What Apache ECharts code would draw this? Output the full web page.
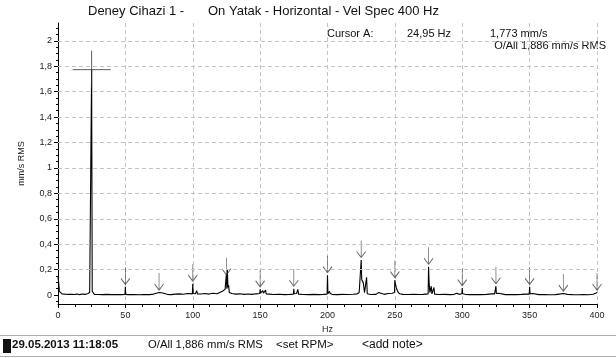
<!DOCTYPE html>
<html>
<head>
<meta charset="utf-8">
<script src="https://cdn.jsdelivr.net/npm/echarts@6/dist/echarts.min.js"></script>
<style>
  html, body { margin: 0; padding: 0; background: #fff; }
  #chart { width: 616px; height: 358px; }
</style>
</head>
<body>
<div id="chart"></div>
<script>
// Velocity spectrum, 0-400 Hz: [frequency Hz, amplitude mm/s RMS]
const spectrum = [
  [0, 0.14], [0.5, 0.10], [1.0, 0.03], [1.5, 0.015], [3, 0.01], [5, 0.008], [8, 0.006],
  [10, 0.007], [12, 0.005], [14, 0.008], [16, 0.004], [18, 0.009], [20, 0.006], [22, 0.01],
  [23.5, 0.02], [24.5, 0.03], [24.95, 1.773], [25.4, 0.03], [26, 0.015], [27, 0.006],
  [30, 0.005], [33, 0.004], [36, 0.006], [40, 0.004], [44, 0.005], [47, 0.004],
  [49.7, 0.006], [50, 0.065], [50.3, 0.006], [52, 0.004], [56, 0.005], [60, 0.003],
  [64, 0.005], [68, 0.004], [71, 0.008], [73, 0.015], [74, 0.007], [75, 0.02], [75.5, 0.006],
  [77, 0.018], [78, 0.005], [81, 0.006], [84, 0.004], [87, 0.008], [90, 0.01], [93, 0.007],
  [96, 0.012], [99.7, 0.01], [100, 0.09], [100.3, 0.012], [102, 0.01], [103, 0.035],
  [103.5, 0.01], [106, 0.009], [109, 0.012], [112, 0.008], [115, 0.014], [118, 0.01],
  [120, 0.02], [121, 0.012], [122, 0.03], [123, 0.015], [124, 0.045], [124.7, 0.03],
  [125, 0.17], [125.3, 0.05], [125.7, 0.2], [126.1, 0.06], [126.6, 0.08], [127.1, 0.02],
  [129, 0.012], [132, 0.008], [135, 0.01], [138, 0.006], [141, 0.009], [144, 0.006],
  [147, 0.01], [149.7, 0.012], [150, 0.045], [150.3, 0.015], [151.5, 0.02], [152, 0.035],
  [152.5, 0.015], [154, 0.04], [154.5, 0.01], [157, 0.008], [160, 0.005], [164, 0.007],
  [168, 0.004], [172, 0.006], [174.7, 0.008], [175, 0.05], [175.3, 0.01], [177, 0.012],
  [178, 0.045], [178.5, 0.008], [182, 0.005], [186, 0.004], [190, 0.006], [194, 0.004],
  [197, 0.006], [199.7, 0.008], [200, 0.157], [200.3, 0.012], [201.5, 0.03], [202, 0.012],
  [203, 0.025], [203.5, 0.006], [207, 0.004], [211, 0.006], [215, 0.005], [219, 0.007],
  [222, 0.01], [223.5, 0.02], [224.7, 0.03], [225, 0.276], [225.4, 0.12], [226, 0.11],
  [226.5, 0.1], [227, 0.09], [227.5, 0.02], [228.5, 0.02], [229, 0.14], [229.5, 0.01],
  [232, 0.005], [236, 0.006], [238, 0.02], [238.5, 0.005], [242, 0.006], [245, 0.012],
  [248, 0.015], [249.7, 0.02], [250, 0.118], [250.4, 0.09], [251, 0.06], [252, 0.03],
  [253, 0.035], [253.5, 0.01], [256, 0.006], [260, 0.005], [264, 0.007], [268, 0.005],
  [271, 0.006], [274.7, 0.01], [275, 0.223], [275.4, 0.1], [276, 0.02], [277, 0.07],
  [277.5, 0.01], [279, 0.06], [279.5, 0.008], [283, 0.005], [287, 0.006], [291, 0.004],
  [294, 0.006], [296, 0.015], [297, 0.02], [297.5, 0.006], [299.7, 0.01], [300, 0.055],
  [300.3, 0.01], [301, 0.02], [302, 0.006], [306, 0.004], [310, 0.005], [314, 0.004],
  [318, 0.006], [322, 0.01], [323, 0.02], [324, 0.01], [324.7, 0.012], [325, 0.07],
  [325.3, 0.012], [327, 0.015], [328, 0.005], [332, 0.004], [336, 0.005], [340, 0.004],
  [344, 0.006], [347, 0.008], [349.7, 0.008], [350, 0.065], [350.3, 0.008], [352, 0.012],
  [353, 0.005], [357, 0.004], [361, 0.005], [365, 0.003], [369, 0.004], [372, 0.008],
  [375, 0.012], [378, 0.006], [382, 0.004], [386, 0.003], [390, 0.005], [394, 0.003],
  [397, 0.007], [399, 0.015], [400, 0.02]
];

// Harmonic markers of 25 Hz: [frequency Hz, amplitude mm/s]
const harmonics = [
  [50, 0.065], [75, 0.02], [100, 0.09], [125, 0.14], [150, 0.045], [175, 0.05],
  [200, 0.157], [225, 0.276], [250, 0.118], [275, 0.223], [300, 0.055], [325, 0.07],
  [350, 0.065], [375, 0.012], [400, 0.02]
];

// Cursor A position
const cursorA = [24.95, 1.773];

// Axis ticks
const yMajorTicks = [0, 0.2, 0.4, 0.6, 0.8, 1, 1.2, 1.4, 1.6, 1.8, 2];
const yGridLines = [0.2, 0.4, 0.6, 0.8, 1, 1.2, 1.4, 1.6, 1.8, 2];
const yMinorTicks = [-0.05, 0.05, 0.1, 0.15, 0.25, 0.3, 0.35, 0.45, 0.5, 0.55, 0.65, 0.7, 0.75,
  0.85, 0.9, 0.95, 1.05, 1.1, 1.15, 1.25, 1.3, 1.35, 1.45, 1.5, 1.55, 1.65, 1.7, 1.75,
  1.85, 1.9, 1.95, 2.05, 2.1];

const titleLeft = 'Deney Cihazi 1 -';
const titleRight = 'On Yatak - Horizontal - Vel Spec 400 Hz';
const cursorLabel = 'Cursor A:';
const cursorFreq = '24,95 Hz';
const cursorAmp = '1,773 mm/s';
const overallText = 'O/All 1,886 mm/s RMS';
const footerDate = '29.05.2013 11:18:05';
const footerOverall = 'O/All 1,886 mm/s RMS';
const footerRpm = '<set RPM>';
const footerNote = '<add note>';

const FONT = '"Liberation Sans", Arial, sans-serif';
const gridDash = { color: '#c4c4c4', type: [4, 3], width: 1 };

const chart = echarts.init(document.getElementById('chart'), null, { renderer: 'canvas' });

const yMin = -0.07, yMax = 2.14;

chart.setOption({
  animation: false,
  backgroundColor: '#fff',
  textStyle: { fontFamily: FONT },
  grid: { left: 58, right: 19, top: 23, bottom: 54 },
  xAxis: {
    type: 'value', min: 0, max: 400, interval: 50,
    name: 'Hz', nameLocation: 'middle', nameGap: 20,
    nameTextStyle: { fontSize: 9, color: '#222', fontFamily: FONT },
    axisLine: { onZero: false, lineStyle: { color: '#000', width: 1 } },
    axisTick: { length: 4, lineStyle: { color: '#000' } },
    minorTick: { show: true, splitNumber: 4, length: 3, lineStyle: { color: '#000' } },
    axisLabel: { fontSize: 9, color: '#222', margin: 7, fontFamily: FONT },
    splitLine: { show: true, lineStyle: gridDash }
  },
  yAxis: [{
    type: 'value', min: yMin, max: yMax,
    name: 'mm/s RMS', nameLocation: 'middle', nameGap: 32, nameRotate: 90,
    nameTextStyle: { fontSize: 9, color: '#222', fontFamily: FONT },
    axisLine: { show: true, onZero: false, lineStyle: { color: '#000', width: 1 } },
    axisTick: { show: true, length: 4, customValues: yMajorTicks, lineStyle: { color: '#000' } },
    axisLabel: {
      fontSize: 9, color: '#222', margin: 6, fontFamily: FONT,
      customValues: yMajorTicks,
      formatter: v => String(Math.round(v * 10) / 10).replace('.', ',')
    },
    splitLine: { show: false }
  }, {
    type: 'value', min: yMin, max: yMax, position: 'left', offset: 0,
    axisLine: { show: false },
    axisTick: { show: true, length: 2, customValues: yMinorTicks, lineStyle: { color: '#000' } },
    axisLabel: { show: false },
    splitLine: { show: false }
  }],
  series: [{
    type: 'line',
    data: spectrum,
    showSymbol: false,
    symbol: 'none',
    lineStyle: { color: '#000', width: 1.1 },
    // horizontal dashed grid at each labelled value
    markLine: {
      silent: true,
      symbol: 'none',
      label: { show: false },
      lineStyle: gridDash,
      emphasis: { disabled: true },
      data: yGridLines.map(v => ({ yAxis: v }))
    },
    z: 3
  }, {
    type: 'scatter',
    data: harmonics,
    symbol: 'path://M5,0 L5,17 M0,11 L5,17 L10,11',
    symbolSize: [9, 17],
    symbolOffset: [0, -11],
    itemStyle: { color: 'rgba(0,0,0,0)', borderColor: '#444', borderWidth: 1 },
    z: 4
  }, {
    type: 'scatter',
    data: [cursorA],
    symbol: 'path://M0,19 L38,19 M19,0 L19,38',
    symbolSize: 38,
    itemStyle: { color: 'rgba(0,0,0,0)', borderColor: '#333', borderWidth: 1 },
    z: 5
  }],
  graphic: [
    { type: 'text', left: 88, top: 5, style: { text: titleLeft, font: '13px ' + FONT, fill: '#111' } },
    { type: 'text', left: 208, top: 5, style: { text: titleRight, font: '13px ' + FONT, fill: '#111' } },
    { type: 'text', left: 327, top: 28, style: { text: cursorLabel, font: '11px ' + FONT, fill: '#111' } },
    { type: 'text', left: 407, top: 28, style: { text: cursorFreq, font: '11px ' + FONT, fill: '#111' } },
    { type: 'text', left: 490, top: 28, style: { text: cursorAmp, font: '11px ' + FONT, fill: '#111' } },
    { type: 'text', right: 10, top: 40, style: { text: overallText, font: '11px ' + FONT, fill: '#111' } },
    { type: 'line', shape: { x1: 0, y1: 335.5, x2: 616, y2: 335.5 }, style: { stroke: '#b0b0b0', lineWidth: 1 } },
    { type: 'line', shape: { x1: 0, y1: 356.5, x2: 616, y2: 356.5 }, style: { stroke: '#b0b0b0', lineWidth: 1 } },
    { type: 'rect', shape: { x: 3, y: 339, width: 8, height: 14 }, style: { fill: '#111' } },
    { type: 'text', left: 12, top: 339, style: { text: footerDate, font: 'bold 11.5px ' + FONT, fill: '#111' } },
    { type: 'text', left: 148, top: 339, style: { text: footerOverall, font: '11.3px ' + FONT, fill: '#111' } },
    { type: 'text', left: 276, top: 339, style: { text: footerRpm, font: '11.5px ' + FONT, fill: '#111' } },
    { type: 'text', left: 362, top: 339, style: { text: footerNote, font: '12px ' + FONT, fill: '#111' } }
  ]
});
</script>
</body>
</html>
